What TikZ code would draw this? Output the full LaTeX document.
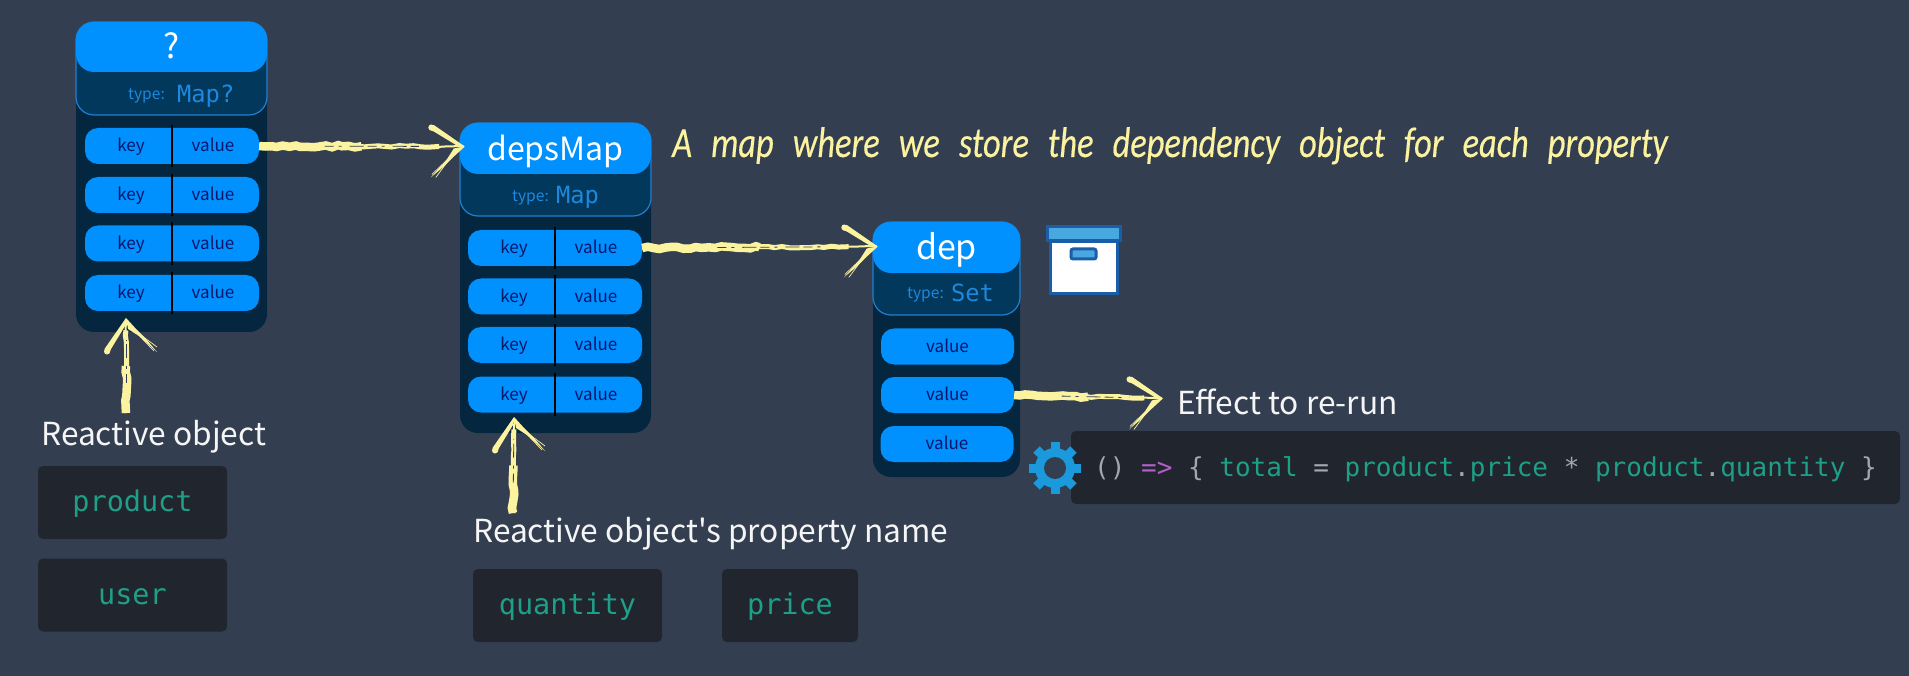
\documentclass[tikz,border=0pt]{standalone}
\usepackage{fontspec}
\usepackage{xcolor}
\usetikzlibrary{calc}
\usetikzlibrary{decorations.pathmorphing}
\setmainfont{Noto Sans CJK SC}
\setmonofont{DejaVu Sans Mono}
\newfontfamily\labelfont{Noto Sans CJK SC}
\newfontfamily\handfont[WordSpace=2.45,FakeStretch=0.8,FakeBold=0.3]{Carlito}

\definecolor{bgcol}{HTML}{333F50}
\definecolor{panelcol}{HTML}{04263E}
\definecolor{bandcol}{HTML}{02385C}
\definecolor{edgecol}{HTML}{1F80D2}
\definecolor{headcol}{HTML}{0091FF}
\definecolor{inkcol}{HTML}{05166B}
\definecolor{typecol}{HTML}{1E88DE}
\definecolor{codebg}{HTML}{21252D}
\definecolor{tealcol}{HTML}{1F9E88}
\definecolor{purplecol}{HTML}{B25FC8}
\definecolor{punctcol}{HTML}{A3A8B0}
\definecolor{chalkcol}{HTML}{FBF3A0}
\definecolor{gearcol}{HTML}{1A9ADC}
\definecolor{lidcol}{HTML}{4AA8E0}
\definecolor{boxedge}{HTML}{1B5EA8}

\tikzset{
  panelbox/.style={fill=panelcol,rounded corners=18pt,inner sep=0pt},
  bandbox/.style={fill=bandcol,draw=edgecol,line width=1.2pt,rounded corners=18pt,inner sep=0pt},
  headbox/.style={fill=headcol,rounded corners=18pt,inner sep=0pt,text=white,
    font=\fontsize{34}{38}\selectfont,text height=24pt,text depth=0pt},
  rowbox/.style={fill=headcol,rounded corners=13pt,inner sep=0pt,minimum height=36pt},
  celltext/.style={text=inkcol,inner sep=0pt,font=\fontsize{17}{20}\selectfont,text height=14.4pt,text depth=3pt},
  rowline/.style={black,line width=1.4pt},
  typetext/.style={anchor=base west,inner sep=0pt,text=typecol,font=\fontsize{15.6}{18}\selectfont},
  typecode/.style={anchor=base west,inner sep=0pt,text=typecol,font=\fontsize{23.7}{26}\ttfamily},
  whitelabel/.style={anchor=base west,inner sep=0pt,text=white!95!bgcol,font=\fontsize{31.7}{36}\labelfont},
  codebox/.style={fill=codebg,rounded corners=5pt,inner sep=0pt,minimum height=73pt,
    text=tealcol,font=\fontsize{28.5}{32}\ttfamily,text height=22pt,text depth=3.5pt},
  chalktip/.style={chalkcol,line width=2pt,decorate,decoration={random steps,segment length=9pt,amplitude=.5pt}},
  chalkmid/.style={chalkcol,line width=5pt,decorate,decoration={random steps,segment length=7pt,amplitude=.9pt}},
  chalkfat/.style={chalkcol,line width=8.5pt,decorate,decoration={random steps,segment length=6pt,amplitude=1.2pt}},
  chalkgap/.style={bgcol,line width=.8pt,dash pattern=on 9pt off 5pt on 3pt off 8pt on 14pt off 4pt},
  gearbar/.style={gearcol,line width=9pt},
  chalkhead/.pic={
    \fill[chalkcol] (1,0) -- (-30,-21.5) -- (-34,-21) -- (-34,-16.5) -- (-30,-15) -- (-7,-1) -- cycle;
    \fill[chalkcol] (-32.5,-19) circle (3pt);
    \fill[chalkcol] (1,0) -- (-10,2) -- (-17,13) -- (-33,31) -- (-20,20) -- (-11,11) -- cycle;
    \draw[chalkcol,line width=.7pt] (-8,5) -- (-32,28);
    \draw[chalkcol,line width=.7pt] (-14,12) -- (-28,31);
  },
}

\newcommand{\maprow}[3]{%
  \node[rowbox,minimum width=174pt] (#1row) at (#2,#3) {};
  \node[celltext] (#1key) at (#2-41,#3) {key};
  \node[celltext] (#1val) at (#2+41,#3) {value};
  \draw[rowline] ($(#1row.north)+(0,-3)$) -- ($(#1row.south)+(0,3)$);
}
\newcommand{\chalkarrow}[3]{%
  \draw[chalktip] (#1) -- (#2);
  \draw[chalkmid] (#1) -- ($(#1)!0.88!(#2)$);
  \draw[chalkfat] (#1) -- ($(#1)!0.5!(#2)$);
  \draw[chalkgap] ($(#1)!0.32!(#2)$) -- ($(#1)!0.78!(#2)$);
  \pic[rotate=#3] at (#2) {chalkhead};
}

\begin{document}
\begin{tikzpicture}[x=1pt,y=-1pt]
  \pgfmathsetseed{11}
  \useasboundingbox (0,0) rectangle (1909,676);
  \fill[bgcol] (0,0) rectangle (1909,676);

  % first map
  \node[panelbox,minimum width=191pt,minimum height=310pt] (apanel) at (171.5,177) {};
  \node[bandbox,minimum width=191pt,minimum height=93pt] (aband) at (171.5,68.5) {};
  \node[headbox,minimum width=191pt,minimum height=50pt] (ahead) at (171.5,47) {?};
  \node[typetext] (atype) at (128,100) {type:};
  \node[typecode] (acode) at (177,103) {Map?};
  \maprow{a1}{172}{146}
  \maprow{a2}{172}{195}
  \maprow{a3}{172}{243.5}
  \maprow{a4}{172}{293}

  % depsMap
  \node[panelbox,minimum width=191pt,minimum height=310pt] (bpanel) at (555.5,278) {};
  \node[bandbox,minimum width=191pt,minimum height=93pt] (bband) at (555.5,169.5) {};
  \node[headbox,minimum width=191pt,minimum height=51pt,font=\fontsize{32}{36}\selectfont] (bhead) at (555.5,148.5) {depsMap};
  \node[typetext] (btype) at (512,202) {type:};
  \node[typecode] (bcode) at (556,204) {Map};
  \maprow{b1}{555}{248}
  \maprow{b2}{555}{296.5}
  \maprow{b3}{555}{345}
  \maprow{b4}{555}{394.5}

  % dep
  \node[panelbox,minimum width=147pt,minimum height=255pt] (cpanel) at (946.5,349.5) {};
  \node[bandbox,minimum width=147pt,minimum height=93pt] (cband) at (946.5,268.5) {};
  \node[headbox,minimum width=147pt,minimum height=51pt] (chead) at (946.5,247.5) {dep};
  \node[typetext] (ctype) at (907,299) {type:};
  \node[typecode] (ccode) at (951,302) {Set};
  \node[rowbox,minimum width=133pt] (c1row) at (947.5,346.5) {};
  \node[rowbox,minimum width=133pt] (c2row) at (947.5,395) {};
  \node[rowbox,minimum width=133pt] (c3row) at (947,444) {};
  \node[celltext] (c1val) at (947.5,346.5) {value};
  \node[celltext] (c2val) at (947.5,395) {value};
  \node[celltext] (c3val) at (947,444) {value};

  % box icon
  \draw[boxedge,fill=white,line width=3pt] (1050,242) rectangle (1117,294);
  \draw[boxedge,fill=lidcol,line width=3pt] (1047,227) rectangle (1120,241);
  \draw[boxedge,fill=lidcol,line width=3pt,rounded corners=2pt] (1071,249) rectangle (1096,259);

  % labels
  \node[whitelabel] (objlabel) at (41,445) {Reactive object};
  \node[whitelabel] (proplabel) at (473,542) {Reactive object's property name};
  \node[whitelabel] (efflabel) at (1177,414) {Effect to re-run};
  \node[anchor=base west,inner sep=0pt,text=chalkcol,font=\fontsize{43}{46}\handfont\itshape] (maplabel) at (672,157)
    {A map where we store the dependency object for each property};

  \coordinate (btip) at ($(bhead.west)+(4,-2)$);
  \coordinate (ctip) at ($(chead.west)+(4,-1)$);
  \coordinate (etip) at ($(efflabel.west)+(-15,-3)$);
  \coordinate (aup) at (126,413);
  \coordinate (atip) at (126,319);
  \coordinate (bup) at (513,513);
  \coordinate (dtip) at (514,418);
  \chalkarrow{a1row.east}{btip}{0}
  \chalkarrow{b1row.east}{ctip}{0}
  \chalkarrow{c2row.east}{etip}{0}
  \chalkarrow{aup}{atip}{90}
  \chalkarrow{bup}{dtip}{90}

  % code
  \node[codebox,minimum width=189pt] (productbox) at (132.5,502.5) {product};
  \node[codebox,minimum width=189pt] (userbox) at (132.5,595) {user};
  \node[codebox,minimum width=189pt] (quantitybox) at (567.5,605.5) {quantity};
  \node[codebox,minimum width=136pt] (pricebox) at (790,605.5) {price};
  \node[codebox,minimum width=829pt,font=\fontsize{26}{30}\ttfamily] (effectbox) at (1485.5,467.5)
    {\textcolor{punctcol}{()} \textcolor{purplecol}{=>} \textcolor{punctcol}{\{} total \textcolor{punctcol}{=} product\textcolor{punctcol}{.}price \textcolor{punctcol}{*} product\textcolor{punctcol}{.}quantity \textcolor{punctcol}{\}}};

  % gear
  \coordinate (gear) at (1055,468);
  \fill[gearcol] (gear) circle (20pt);
  \draw[gearbar] ($(gear)+(0:26)$) -- ($(gear)+(180:26)$);
  \draw[gearbar] ($(gear)+(45:26)$) -- ($(gear)+(225:26)$);
  \draw[gearbar] ($(gear)+(90:26)$) -- ($(gear)+(270:26)$);
  \draw[gearbar] ($(gear)+(135:26)$) -- ($(gear)+(315:26)$);
  \fill[bgcol] (gear) circle (11pt);
\end{tikzpicture}
\end{document}
